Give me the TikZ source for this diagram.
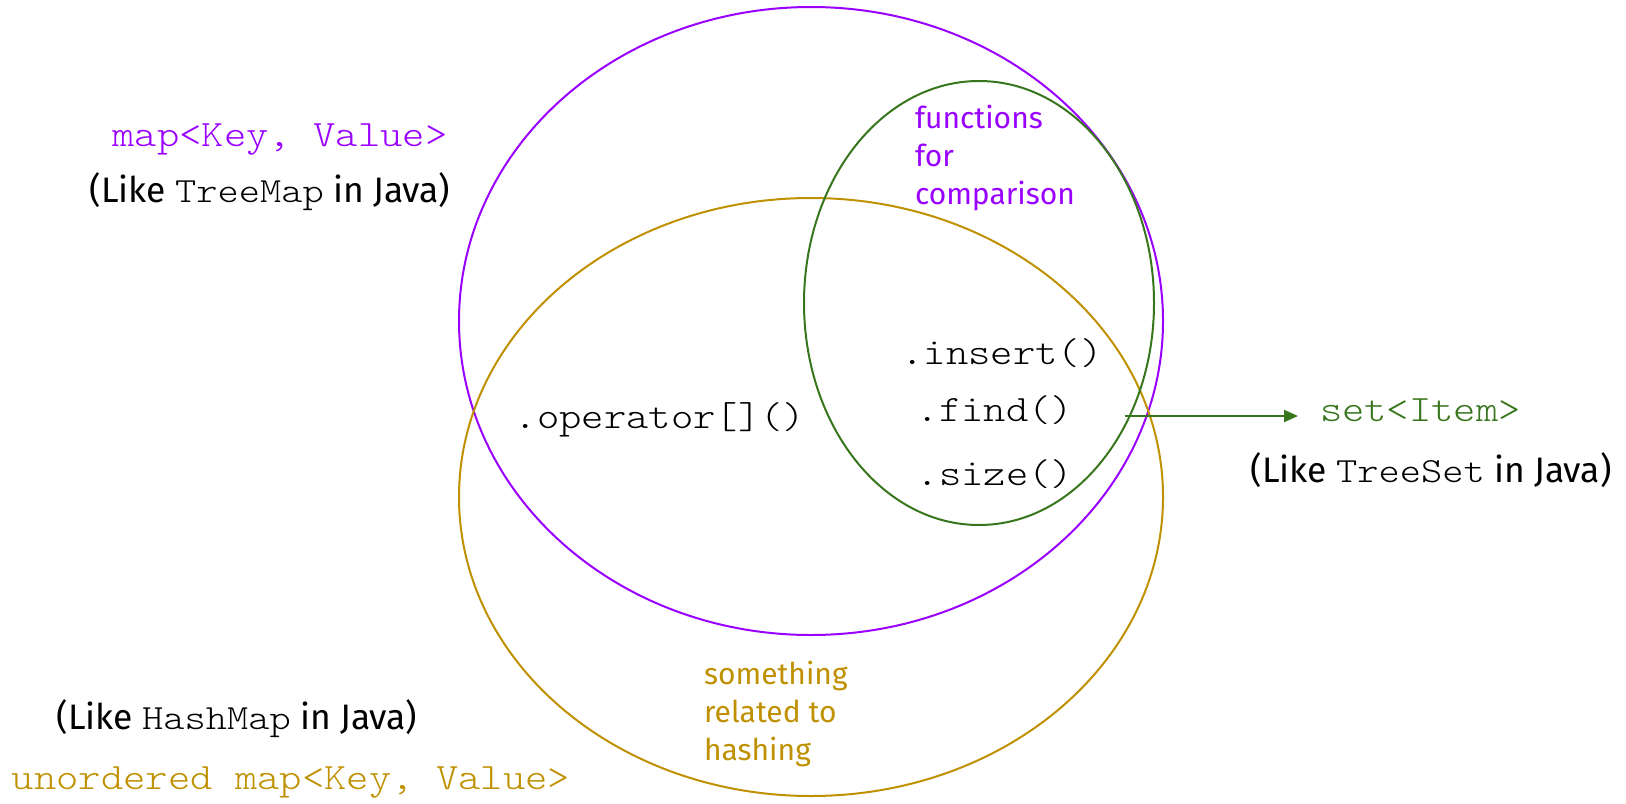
\documentclass[tikz,border=0pt]{standalone}
\usepackage{fontspec}
\setmainfont{Fira Sans}
\setmonofont[FakeStretch=1.143]{Latin Modern Mono Light}
\usetikzlibrary{arrows.meta}

\definecolor{mapPurple}{HTML}{9900FF}
\definecolor{hashGold}{HTML}{BF9000}
\definecolor{setGreen}{HTML}{38761D}

\begin{document}
\begin{tikzpicture}[x=0.5pt, y=-0.5pt, line width=1pt,
    code/.style={font=\fontsize{18.6}{21}\ttfamily, inner sep=0pt},
    like/.style={font=\fontsize{17.7}{21}\selectfont, inner sep=0pt},
    note/.style={font=\fontsize{15}{19}\selectfont, align=left, inner sep=0pt}]
    \useasboundingbox (0,0) rectangle (1626,803);

    % Sets
    \draw[mapPurple] (811,321) ellipse [x radius=352, y radius=314];
    \draw[hashGold] (811,497) ellipse [x radius=352, y radius=299];
    \draw[setGreen] (979,303) ellipse [x radius=175, y radius=222];

    % Labels on the left
    \node[code, text=mapPurple] (mapName) at (280,140) {map<Key, Value>};
    \node[like] (mapJava) at (270,192) {(Like \texttt{TreeMap} in Java)};
    \node[like] (hashJava) at (237,719) {(Like \texttt{HashMap} in Java)};
    \node[code, text=hashGold] (hashName) at (291,783) {unordered map<Key, Value>};

    % Methods
    \node[code] (opIndex) at (660,420) {.operator[]()};
    \node[code] (opInsert) at (1002,353) {.insert()};
    \node[code] (opFind) at (995,410) {.find()};
    \node[code] (opSize) at (995,474) {.size()};

    % Notes
    \node[note, text=mapPurple, anchor=north west] (cmpNote) at (914,104) {functions\\for\\comparison};
    \node[note, text=hashGold, anchor=north west] (hashNote) at (703,660) {something\\related to\\hashing};

    % set<Item>
    \node[code, text=setGreen, anchor=west] (setName) at (1319,410) {set<Item>};
    \node[like] (setJava) at (1431,470) {(Like \texttt{TreeSet} in Java)};
    \coordinate (setExit) at (1125,416);
    \draw[setGreen, -{Triangle[length=7pt, width=6pt]}] (setExit) -- (setExit -| setName.west) [shorten >=10.5pt];
\end{tikzpicture}
\end{document}
